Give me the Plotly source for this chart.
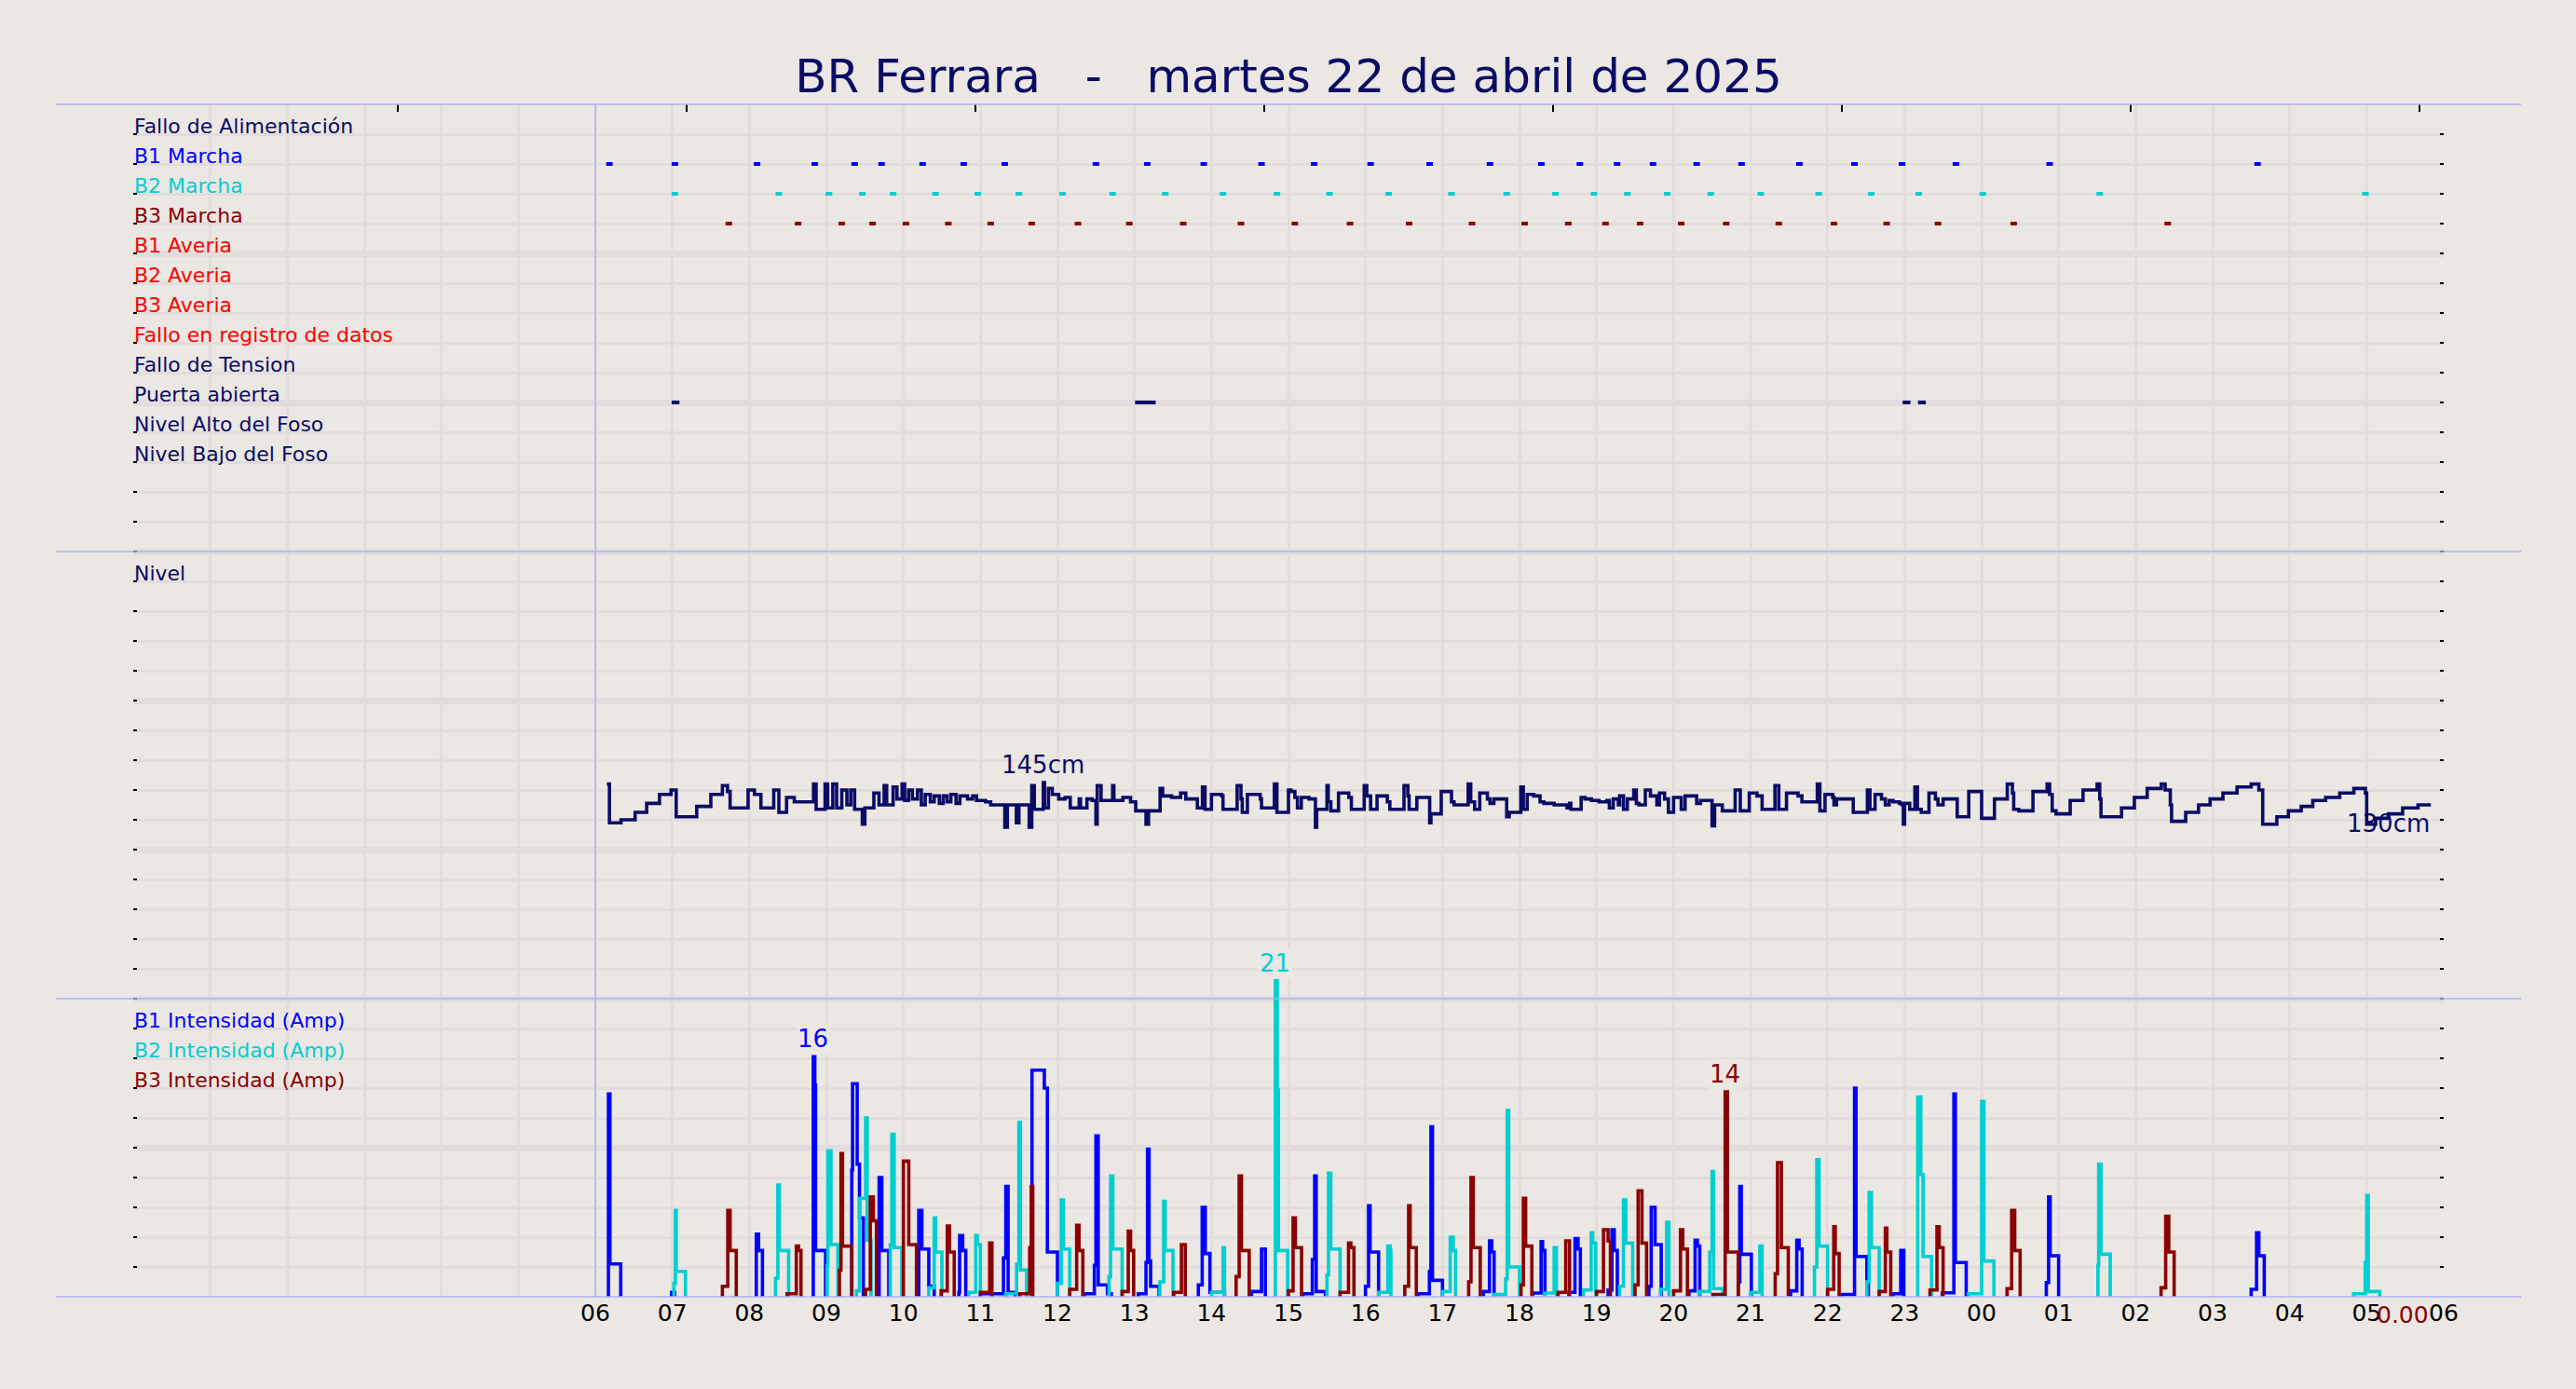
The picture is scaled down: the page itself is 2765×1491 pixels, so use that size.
import pandas as pd
import plotly.graph_objects as go

# ---------------------------------------------------------------- data
DAY = pd.Timestamp("2025-04-22")
TITLE = "BR Ferrara   -   martes 22 de abril de 2025"

signal_names = ["Fallo de Alimentación", "B1 Marcha", "B2 Marcha", "B3 Marcha",
                "B1 Averia", "B2 Averia", "B3 Averia", "Fallo en registro de datos",
                "Fallo de Tension", "Puerta abierta", "Nivel Alto del Foso", "Nivel Bajo del Foso"]
signal_colors = ["#0b0b66", "#0000ff", "#00ced1", "#8b0000",
                 "#ff0000", "#ff0000", "#ff0000", "#ff0000",
                 "#0b0b66", "#0b0b66", "#0b0b66", "#0b0b66"]

b1_marcha = ["06:11", "07:02", "08:06", "08:51", "09:22", "09:43", "10:15", "10:47", "11:19",
             "12:30", "13:10", "13:54", "14:39", "15:20", "16:04", "16:50", "17:37", "18:17",
             "18:47", "19:16", "19:44", "20:18", "20:53", "21:38", "22:21", "22:58", "23:40",
             "00:53", "03:35"]
b2_marcha = ["07:02", "08:23", "09:02", "09:28", "09:52", "10:25", "10:58", "11:30", "12:04",
             "12:43", "13:24", "14:09", "14:51", "15:32", "16:18", "17:07", "17:50", "18:28",
             "18:58", "19:24", "19:55", "20:29", "21:08", "21:53", "22:34", "23:11", "00:01",
             "01:32", "04:59"]
b3_marcha = ["07:44", "08:38", "09:12", "09:36", "10:02", "10:35", "11:08", "11:40", "12:16",
             "12:56", "13:38", "14:23", "15:05", "15:48", "16:34", "17:23", "18:04", "18:38",
             "19:07", "19:34", "20:06", "20:41", "21:22", "22:05", "22:46", "23:26", "00:25",
             "02:25"]
puerta_start = ["07:02", "13:03", "23:01", "23:13"]
puerta_end = ["07:03", "13:14", "23:02", "23:14"]

nivel_label = "Nivel"
nivel_time = ["06:09", "06:11", "06:20", "06:31", "06:40", "06:50", "06:59", "07:03", "07:19", "07:30",
              "07:39", "07:43", "07:45", "07:59", "08:04", "08:09", "08:19", "08:23", "08:29", "08:35",
              "08:50", "08:52", "08:59", "09:01", "09:05", "09:08", "09:12", "09:16", "09:19", "09:22",
              "09:28", "09:30", "09:37", "09:41", "09:45", "09:47", "09:52", "09:55", "09:59", "10:01",
              "10:04", "10:07", "10:11", "10:14", "10:17", "10:21", "10:24", "10:28", "10:31", "10:34",
              "10:37", "10:41", "10:44", "10:50", "10:54", "10:57", "11:04", "11:08", "11:19", "11:21",
              "11:28", "11:30", "11:38", "11:40", "11:42", "11:49", "11:50", "11:53", "11:56", "12:01",
              "12:06", "12:10", "12:17", "12:18", "12:23", "12:27", "12:30", "12:31", "12:34", "12:43",
              "12:44", "12:51", "12:57", "13:01", "13:09", "13:11", "13:20", "13:22", "13:29", "13:36",
              "13:40", "13:49", "13:53", "13:55", "14:00", "14:08", "14:09", "14:20", "14:23", "14:24",
              "14:28", "14:38", "14:39", "14:49", "14:51", "15:00", "15:02", "15:05", "15:07", "15:10",
              "15:16", "15:21", "15:22", "15:30", "15:31", "15:33", "15:39", "15:47", "15:49", "15:59",
              "16:01", "16:04", "16:09", "16:17", "16:19", "16:30", "16:33", "16:34", "16:40", "16:50",
              "16:51", "16:59", "17:07", "17:09", "17:20", "17:22", "17:25", "17:29", "17:35", "17:37",
              "17:40", "17:50", "17:52", "18:01", "18:03", "18:06", "18:11", "18:16", "18:19", "18:27",
              "18:37", "18:39", "18:40", "18:48", "18:51", "18:56", "19:02", "19:08", "19:10", "19:13",
              "19:17", "19:18", "19:21", "19:24", "19:29", "19:31", "19:33", "19:38", "19:42", "19:47",
              "19:49", "19:53", "19:56", "20:00", "20:06", "20:09", "20:18", "20:21", "20:30", "20:32",
              "20:38", "20:48", "20:52", "20:59", "21:05", "21:09", "21:19", "21:22", "21:28", "21:37",
              "21:40", "21:52", "21:54", "21:58", "22:04", "22:05", "22:07", "22:20", "22:31", "22:33",
              "22:37", "22:42", "22:45", "22:48", "22:51", "22:56", "22:58", "22:59", "23:00", "23:04",
              "23:08", "23:10", "23:13", "23:19", "23:24", "23:26", "23:30", "23:41", "23:50", "00:00",
              "00:10", "00:20", "00:24", "00:25", "00:29", "00:40", "00:51", "00:53", "00:55", "00:58",
              "01:09", "01:19", "01:30", "01:32", "01:33", "01:49", "01:59", "02:09", "02:20", "02:23",
              "02:27", "02:28", "02:39", "02:49", "02:58", "03:08", "03:19", "03:30", "03:36", "03:39",
              "03:50", "03:59", "04:09", "04:18", "04:28", "04:39", "04:50", "04:59", "05:00", "05:07",
              "05:17", "05:28", "05:40", "05:50"]
nivel_cm = [144, 118, 120, 125, 131, 137, 140, 122, 129, 137,
            143, 139, 128, 140, 137, 128, 140, 125, 135, 132,
            144, 127, 144, 128, 144, 128, 140, 130, 140, 127,
            117, 128, 138, 130, 143, 130, 142, 134, 144, 133,
            140, 134, 140, 130, 137, 132, 136, 131, 136, 132,
            137, 131, 136, 134, 136, 133, 132, 130, 115, 130,
            118, 130, 115, 143, 127, 145, 128, 141, 137, 134,
            135, 128, 134, 128, 134, 133, 117, 143, 133, 143,
            133, 135, 132, 126, 117, 126, 141, 136, 135, 138,
            134, 128, 142, 127, 137, 136, 127, 143, 134, 125,
            137, 134, 128, 144, 125, 140, 139, 135, 128, 135,
            134, 115, 127, 143, 132, 126, 138, 135, 127, 143,
            136, 127, 136, 132, 127, 143, 136, 127, 135, 118,
            124, 139, 132, 130, 144, 132, 127, 138, 134, 131,
            134, 122, 125, 142, 127, 137, 136, 132, 131, 130,
            128, 131, 127, 135, 134, 133, 132, 133, 128, 134,
            130, 136, 127, 134, 140, 131, 130, 140, 136, 130,
            138, 134, 125, 135, 127, 136, 131, 133, 116, 130,
            126, 140, 126, 138, 136, 127, 143, 127, 138, 136,
            132, 144, 126, 137, 135, 130, 134, 125, 140, 127,
            137, 134, 130, 133, 132, 131, 130, 117, 131, 127,
            142, 127, 125, 138, 134, 130, 134, 122, 139, 121,
            134, 144, 138, 127, 126, 139, 144, 137, 126, 124,
            133, 140, 144, 134, 122, 128, 135, 141, 144, 140,
            130, 119, 125, 130, 134, 138, 142, 144, 140, 117,
            122, 126, 129, 133, 135, 138, 141, 138, 117, 121,
            124, 128, 130, 130]

amp_labels = ["B1 Intensidad (Amp)", "B2 Intensidad (Amp)", "B3 Intensidad (Amp)"]
amp_colors = ["#0000ff", "#00ced1", "#8b0000"]

# each run: (hour since 00:00 of the 22nd, amps)
b1_runs = [
    [(6.17, 13.6), (6.19, 2.2), (6.33, 0)],
    [(6.99, 0.3), (7.03, 0)],
    [(8.09, 4.2), (8.12, 3.1), (8.17, 0)],
    [(8.83, 16.1), (8.85, 14.2), (8.86, 3.1), (8.99, 0)],
    [(9.33, 8.5), (9.34, 14.3), (9.40, 8.9), (9.43, 5.3), (9.48, 0)],
    [(9.685, 8.0), (9.72, 3.1), (9.81, 0)],
    [(10.20, 5.8), (10.24, 3.2), (10.33, 0.7), (10.40, 0)],
    [(10.72, 0.3), (10.73, 4.1), (10.77, 3.1), (10.81, 0)],
    [(11.0, 0.2), (11.30, 2.6), (11.33, 7.4), (11.36, 0.3), (11.45, 0)],
    [(11.67, 15.2), (11.83, 14.0), (11.87, 3.0), (12.0, 0)],
    [(12.35, 0.2), (12.48, 2.1), (12.50, 10.8), (12.53, 0.8), (12.65, 0.2), (12.70, 0)],
    [(13.05, 0.2), (13.15, 2.3), (13.17, 9.9), (13.19, 2.4), (13.21, 0.7), (13.32, 0)],
    [(13.83, 0.8), (13.88, 6.0), (13.92, 2.9), (13.98, 0.3), (14.17, 0)],
    [(14.52, 0.35), (14.65, 3.2), (14.70, 0)],
    [(15.19, 0.2), (15.31, 2.5), (15.34, 8.1), (15.36, 0.35), (15.48, 0)],
    [(16.0, 0.7), (16.04, 6.1), (16.06, 3.0), (16.17, 0)],
    [(16.68, 0.2), (16.83, 1.7), (16.85, 11.4), (16.87, 1.1), (17.0, 0)],
    [(17.53, 0.35), (17.61, 3.75), (17.64, 3.0), (17.67, 0)],
    [(18.17, 0.25), (18.28, 3.7), (18.30, 3.1), (18.33, 0)],
    [(18.64, 0.3), (18.72, 3.9), (18.76, 3.2), (18.79, 0)],
    [(19.15, 0.45), (19.20, 4.5), (19.23, 3.1), (19.27, 0)],
    [(19.68, 0.7), (19.71, 6.0), (19.76, 3.5), (19.84, 0)],
    [(20.20, 0.4), (20.28, 3.8), (20.31, 3.4), (20.34, 0)],
    [(20.84, 1.0), (20.86, 7.4), (20.88, 2.85), (21.01, 0)],
    [(21.52, 0.4), (21.60, 3.8), (21.63, 3.2), (21.67, 0)],
    [(22.19, 0.15), (22.35, 14.0), (22.37, 2.7), (22.51, 1.0), (22.53, 0)],
    [(22.85, 0.2), (22.95, 3.1), (22.99, 0)],
    [(23.49, 0.27), (23.64, 13.6), (23.66, 2.3), (23.80, 0)],
    [(24.84, 0.95), (24.87, 6.7), (24.89, 2.75), (25.0, 0)],
    [(27.50, 0.5), (27.57, 4.3), (27.60, 2.75), (27.67, 0)],
]
b2_runs = [
    [(7.02, 0.9), (7.04, 5.8), (7.05, 1.7), (7.17, 0)],
    [(8.34, 1.25), (8.37, 7.5), (8.39, 3.1), (8.51, 0)],
    [(9.01, 2.1), (9.02, 9.8), (9.06, 3.5), (9.15, 0)],
    [(9.39, 0.4), (9.43, 6.6), (9.51, 12.0), (9.53, 3.8), (9.58, 0)],
    [(9.83, 3.5), (9.85, 10.9), (9.88, 3.3), (9.98, 0)],
    [(10.33, 0.6), (10.40, 5.3), (10.42, 3.0), (10.50, 0)],
    [(10.85, 0.3), (10.94, 4.1), (10.96, 3.5), (11.0, 0)],
    [(11.33, 0.2), (11.47, 2.2), (11.50, 11.7), (11.52, 1.8), (11.60, 0)],
    [(12.0, 0.9), (12.05, 6.5), (12.08, 3.2), (12.16, 0)],
    [(12.67, 1.35), (12.69, 8.1), (12.72, 3.2), (12.84, 0)],
    [(13.33, 1.0), (13.38, 6.4), (13.40, 3.1), (13.50, 0)],
    [(14.0, 0.3), (14.15, 3.3), (14.17, 0)],
    [(14.83, 21.2), (14.855, 13.9), (14.87, 3.1), (14.99, 0)],
    [(15.50, 1.45), (15.52, 8.3), (15.55, 3.2), (15.67, 0)],
    [(16.17, 0.3), (16.29, 3.4), (16.32, 3.1), (16.33, 0)],
    [(17.0, 0.35), (17.10, 4.0), (17.14, 3.1), (17.17, 0)],
    [(17.66, 0.15), (17.82, 1.2), (17.84, 12.5), (17.86, 2.0), (18.0, 0)],
    [(18.33, 0.25), (18.45, 3.3), (18.48, 0)],
    [(18.83, 0.45), (18.93, 4.3), (18.95, 3.6), (18.99, 0)],
    [(19.30, 0.7), (19.35, 6.5), (19.38, 3.6), (19.47, 0)],
    [(19.83, 0.5), (19.91, 5.0), (19.94, 0)],
    [(20.33, 0.35), (20.47, 3.0), (20.50, 8.4), (20.52, 0.55), (20.64, 0)],
    [(21.0, 0.3), (21.12, 3.4), (21.15, 0)],
    [(21.83, 2.0), (21.86, 9.2), (21.89, 3.4), (22.0, 0)],
    [(22.51, 1.0), (22.54, 7.0), (22.57, 3.3), (22.67, 0)],
    [(23.17, 13.4), (23.21, 8.2), (23.24, 2.7), (23.35, 0)],
    [(23.83, 0.2), (24.0, 13.1), (24.03, 2.4), (24.16, 0)],
    [(25.51, 2.1), (25.52, 8.9), (25.55, 2.85), (25.67, 0)],
    [(28.83, 0.2), (28.98, 2.3), (29.0, 6.8), (29.02, 0.35), (29.17, 0)],
]
b3_runs = [
    [(7.65, 0.7), (7.72, 5.8), (7.75, 3.1), (7.83, 0)],
    [(8.49, 0.2), (8.61, 3.4), (8.64, 3.1), (8.67, 0)],
    [(9.17, 1.8), (9.19, 9.6), (9.21, 3.4), (9.33, 0)],
    [(9.51, 0.5), (9.57, 6.7), (9.61, 5.1), (9.65, 0)],
    [(10.0, 9.1), (10.07, 3.5), (10.17, 0)],
    [(10.49, 0.4), (10.57, 4.75), (10.60, 3.0), (10.66, 0)],
    [(11.0, 0.3), (11.12, 3.6), (11.15, 0)],
    [(11.51, 0.2), (11.64, 3.3), (11.66, 7.4), (11.68, 0)],
    [(12.16, 0.5), (12.25, 4.8), (12.28, 3.1), (12.33, 0)],
    [(12.84, 0.35), (12.92, 4.4), (12.95, 3.1), (12.99, 0)],
    [(13.51, 0.3), (13.61, 3.5), (13.66, 0)],
    [(14.32, 1.35), (14.36, 8.1), (14.39, 3.1), (14.49, 0)],
    [(15.0, 0.4), (15.06, 5.3), (15.09, 3.3), (15.17, 0)],
    [(15.67, 0.3), (15.78, 3.6), (15.81, 3.3), (15.85, 0)],
    [(16.51, 0.7), (16.56, 6.1), (16.58, 3.3), (16.66, 0)],
    [(17.34, 1.0), (17.37, 8.0), (17.40, 3.3), (17.49, 0)],
    [(18.02, 0.8), (18.05, 6.6), (18.08, 3.4), (18.16, 0)],
    [(18.50, 0.3), (18.60, 3.75), (18.65, 0)],
    [(19.0, 0.35), (19.09, 4.5), (19.15, 3.75), (19.18, 0)],
    [(19.50, 0.8), (19.54, 7.1), (19.59, 3.6), (19.65, 0)],
    [(20.0, 0.4), (20.09, 4.5), (20.12, 3.2), (20.18, 0)],
    [(20.51, 0.15), (20.67, 13.75), (20.70, 3.0), (20.84, 0)],
    [(21.32, 1.55), (21.35, 9.0), (21.40, 3.3), (21.49, 0)],
    [(22.0, 0.5), (22.08, 4.7), (22.10, 2.9), (22.15, 0)],
    [(22.67, 0.35), (22.75, 4.6), (22.77, 3.0), (22.82, 0)],
    [(23.33, 0.45), (23.42, 4.7), (23.45, 3.3), (23.50, 0)],
    [(24.33, 0.55), (24.39, 5.8), (24.43, 3.1), (24.50, 0)],
    [(26.33, 0.6), (26.39, 5.4), (26.43, 3.0), (26.50, 0)],
]

# ---------------------------------------------------------------- style
BG = "#ebe7e2"
GRID = "#e2dddc"
SEP = "#aeaef5"
NAVY = "#0b0b66"
FONT = "DejaVu Sans"
W, H = 2765, 1491
ML, MR, MT, MB = 143, 142, 112, 99
PLOT_W = W - ML - MR


def at(hhmm):
    h, m = map(int, hhmm.split(":"))
    ts = DAY + pd.Timedelta(hours=h, minutes=m)
    if h < 6:
        ts += pd.Timedelta(days=1)
    return ts


def from_hours(h):
    return DAY + pd.Timedelta(hours=h)


def runs_xy(runs):
    xs, ys = [], []
    for run in runs:
        xs.append(from_hours(run[0][0]))
        ys.append(0)
        for h, a in run:
            xs.append(from_hours(h))
            ys.append(a)
        xs.append(None)
        ys.append(None)
    return xs, ys


fig = go.Figure()

# base (grid) axes need a trace
fig.add_trace(go.Scatter(x=[DAY], y=[None], xaxis="x", yaxis="y", hoverinfo="skip", showlegend=False))
fig.add_trace(go.Scatter(x=[DAY], y=[None], xaxis="x2", yaxis="y", hoverinfo="skip", showlegend=False))

# ---- panel 1: digital signals (yaxis2 rows)
rows = {name: 14 - i for i, name in enumerate(signal_names)}
for name, times in [("B1 Marcha", b1_marcha), ("B2 Marcha", b2_marcha), ("B3 Marcha", b3_marcha)]:
    col = signal_colors[signal_names.index(name)]
    fig.add_trace(go.Scatter(
        x=[at(t) for t in times], y=[rows[name]] * len(times), yaxis="y2",
        mode="markers", marker=dict(symbol="line-ew", size=5, line=dict(width=4, color=col)),
        hoverinfo="skip", showlegend=False))

px, py = [], []
for s, e in zip(puerta_start, puerta_end):
    px += [at(s), at(e), None]
    py += [rows["Puerta abierta"]] * 2 + [None]
pcol = signal_colors[signal_names.index("Puerta abierta")]
fig.add_trace(go.Scatter(
    x=px, y=py, yaxis="y2", mode="lines+markers",
    line=dict(color=pcol, width=4),
    marker=dict(symbol="line-ew", size=5, line=dict(width=4, color=pcol)),
    hoverinfo="skip", showlegend=False))

# ---- panel 2: level
nx = [at(t) for t in nivel_time]
fig.add_trace(go.Scatter(x=nx, y=nivel_cm, yaxis="y3", mode="lines",
                         line=dict(color=NAVY, width=3.6, shape="hv"),
                         hoverinfo="skip", showlegend=False))

# ---- panel 3: currents
amp_series = [b1_runs, b2_runs, b3_runs]
for runs, col in zip(amp_series, amp_colors):
    xs, ys = runs_xy(runs)
    fig.add_trace(go.Scatter(x=xs, y=ys, yaxis="y4", mode="lines",
                             line=dict(color=col, width=3.6, shape="hv"), connectgaps=False,
                             hoverinfo="skip", showlegend=False))

annotations = []
# signal row labels
for name, col in zip(signal_names, signal_colors):
    annotations.append(dict(xref="paper", x=0, yref="y2", y=rows[name], text=name,
                            xanchor="left", yanchor="bottom", yshift=-5, borderpad=0,
                            showarrow=False, font=dict(family=FONT, size=22, color=col)))
annotations.append(dict(xref="paper", x=0, yref="y3", y=280, text=nivel_label,
                        xanchor="left", yanchor="bottom", yshift=-5, borderpad=0,
                        showarrow=False, font=dict(family=FONT, size=22, color=NAVY)))
for i, (lab, col) in enumerate(zip(amp_labels, amp_colors)):
    annotations.append(dict(xref="paper", x=0, yref="y4", y=18 - 2 * i, text=lab,
                            xanchor="left", yanchor="bottom", yshift=-5, borderpad=0,
                            showarrow=False, font=dict(family=FONT, size=22, color=col)))

# level max / last labels
imax = max(range(len(nivel_cm)), key=lambda i: nivel_cm[i])
annotations.append(dict(x=nx[imax], y=nivel_cm[imax], xref="x", yref="y3",
                        text=f"{nivel_cm[imax]}cm", showarrow=False, xanchor="center",
                        yanchor="bottom", yshift=3, borderpad=0,
                        font=dict(family=FONT, size=26, color=NAVY)))
annotations.append(dict(x=nx[-1], y=nivel_cm[-1], xref="x", yref="y3",
                        text=f"{nivel_cm[-1]}cm", showarrow=False, xanchor="right",
                        yanchor="top", yshift=-4, borderpad=0,
                        font=dict(family=FONT, size=26, color=NAVY)))

# current peak labels
for runs, col in zip(amp_series, amp_colors):
    pts = [p for run in runs for p in run]
    hmax, amax = max(pts, key=lambda p: p[1])
    annotations.append(dict(x=from_hours(hmax), y=amax, xref="x", yref="y4",
                            text=f"{amax:.0f}", showarrow=False, xanchor="center",
                            yanchor="bottom", yshift=2, borderpad=1, bgcolor=BG,
                            font=dict(family=FONT, size=26, color=col)))
# last value of B3
last_b3 = b3_runs[-1][-1][1]
annotations.append(dict(x=nx[-1], y=0, xref="x", yref="y4", text=f"{last_b3:.2f}",
                        showarrow=False, xanchor="right", yanchor="middle", yshift=-19,
                        font=dict(family=FONT, size=25, color=amp_colors[2])))

# ---- decorations: separator lines (grid units: 40 total rows)
shapes = []
for g in [0, 10, 25, 40]:
    shapes.append(dict(type="line", xref="paper", yref="paper",
                       x0=-83 / PLOT_W, x1=1 + 83 / PLOT_W, y0=g / 40, y1=g / 40,
                       line=dict(color=SEP, width=1.6), layer="above"))
shapes.append(dict(type="line", xref="paper", yref="paper", x0=6 / 30, x1=6 / 30, y0=0, y1=1,
                   line=dict(color=SEP, width=1.4), layer="above"))

x_start = DAY
x_end = DAY + pd.Timedelta(hours=30)
hour_ticks = [DAY + pd.Timedelta(hours=h) for h in range(6, 31)]
top_ticks = [DAY + pd.Timedelta(hours=3.435 + 3.75 * k) for k in range(8)]

fig.update_layout(
    width=W, height=H,
    margin=dict(l=ML, r=MR, t=MT, b=MB, pad=0),
    paper_bgcolor=BG, plot_bgcolor=BG,
    showlegend=False,
    font=dict(family=FONT, color="black"),
    title=dict(text=TITLE, x=0.5, xanchor="center", xref="paper",
               y=1 - 81 / H, yanchor="middle",
               font=dict(family=FONT, size=50, color=NAVY)),
    xaxis=dict(type="date", range=[x_start, x_end], tickvals=hour_ticks, tickformat="%H",
               ticks="", showgrid=True, gridcolor=GRID, gridwidth=3, zeroline=False,
               showline=False, tickfont=dict(family=FONT, size=25, color="black"),
               minor=dict(tick0=DAY, dtick=3600000, showgrid=True, gridcolor=GRID,
                          gridwidth=3, ticks="")),
    xaxis2=dict(type="date", overlaying="x", side="top", anchor="y", range=[x_start, x_end],
                tickvals=top_ticks, ticks="inside", ticklen=8, tickwidth=1.6,
                tickcolor="black", showticklabels=False, showgrid=False, zeroline=False,
                showline=False),
    yaxis=dict(range=[0, 40], tick0=0, dtick=5, showgrid=True, gridcolor=GRID, gridwidth=7,
               ticks="inside", ticklen=4, tickwidth=1.5, tickcolor="black", mirror="ticks",
               showticklabels=False, zeroline=False, showline=False,
               minor=dict(dtick=1, showgrid=True, gridcolor=GRID, gridwidth=3,
                          ticks="inside", ticklen=4, tickwidth=1.5, tickcolor="black")),
    yaxis2=dict(overlaying="y", range=[-25, 15], visible=False),
    yaxis3=dict(overlaying="y", range=[-200, 600], visible=False),
    yaxis4=dict(overlaying="y", range=[0, 80], visible=False),
    annotations=annotations,
    shapes=shapes,
)

fig.write_html(
    "out.html",
    config={"displayModeBar": False},
    post_script=("document.body.style.margin='0';"
                 "document.body.style.background='" + BG + "';"),
)
